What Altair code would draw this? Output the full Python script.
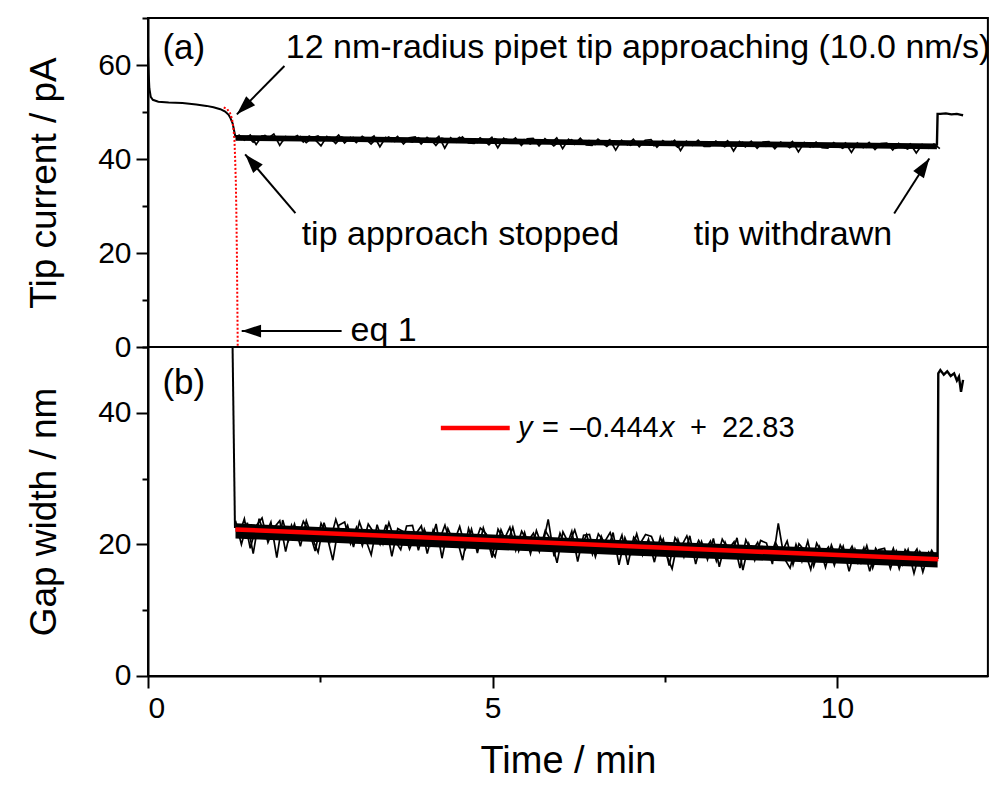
import altair as alt
import pandas as pd
import numpy as np

FONT = "Liberation Sans"

# ---------------- data ----------------
# (a) tip current before and during approach
approach_t = [0.00, 0.01, 0.02, 0.04, 0.07, 0.15, 0.30, 0.50, 0.70, 0.85, 0.95, 1.05, 1.12, 1.17, 1.20, 1.23, 1.25, 1.27]
approach_i = [62.0, 58.0, 55.0, 53.2, 52.6, 52.2, 52.0, 51.9, 51.6, 51.3, 51.0, 50.6, 50.1, 49.4, 48.6, 47.5, 46.0, 44.6]

# (a) noisy current after approach stopped (1.27 .. 11.45 min), two interleaved read-outs
noise_top_start, noise_top_end = 1.27, 11.45
noise_top = [
    44.9, 44.2, 44.8, 43.6, 44.6, 45.0, 44.1, 44.7, 43.9, 44.6,
    44.1, 44.8, 43.5, 44.5, 44.9, 44.0, 44.6, 43.3, 44.7, 44.2,
    44.6, 43.8, 44.4, 43.2, 44.5, 44.0, 44.7, 43.7, 44.3, 44.0,
    43.6, 44.5, 43.9, 44.3, 42.9, 44.4, 44.1, 43.7, 44.6, 43.9,
    44.2, 43.5, 44.1, 43.0, 44.3, 43.8, 44.2, 43.4, 43.9, 44.1,
    43.2, 44.0, 43.6, 43.9, 42.8, 43.8, 43.5, 44.1, 43.3, 43.7,
    43.9, 43.1, 43.6, 42.7, 43.8, 43.4, 43.7, 42.9, 43.5, 43.2,
    43.6, 42.8, 43.5, 43.2, 43.7, 42.5, 43.4, 43.6, 43.0, 43.4,
    43.5, 42.9, 43.3, 42.6, 43.4, 43.1, 43.6, 42.8, 43.2, 43.4,
    42.7, 43.3, 42.9, 43.4, 42.4, 43.2, 43.0, 43.3, 42.6, 43.1,
    43.2, 42.6, 43.0, 42.3, 43.1, 42.8, 43.2, 42.5, 42.9, 43.0,
    42.6, 43.0, 42.3, 42.9, 42.1, 42.8, 42.6, 43.0, 42.4, 42.8,
]
noise_top2 = [
    45.2, 44.0, 45.1, 43.1, 44.9, 44.4, 45.3, 42.9, 44.8, 44.3,
    45.0, 43.6, 44.9, 44.1, 42.8, 44.8, 43.9, 45.1, 43.4, 44.6,
    43.5, 44.8, 44.0, 44.9, 42.6, 44.6, 43.8, 44.8, 43.2, 44.5,
    44.7, 43.2, 44.6, 43.7, 44.8, 42.3, 44.5, 43.6, 44.7, 43.4,
    43.3, 44.5, 43.6, 44.6, 42.4, 44.4, 43.5, 44.5, 42.9, 44.3,
    44.4, 42.8, 44.3, 43.3, 44.5, 42.2, 44.2, 43.1, 44.4, 43.0,
    42.9, 44.2, 43.2, 44.1, 41.9, 44.0, 43.0, 44.2, 42.6, 44.0,
    44.1, 42.5, 43.9, 43.0, 44.0, 41.8, 43.8, 42.9, 44.0, 42.7,
    42.7, 43.8, 42.9, 43.9, 41.7, 43.7, 42.6, 43.8, 42.3, 43.6,
    43.7, 42.2, 43.6, 42.8, 43.7, 41.5, 43.5, 42.5, 43.6, 42.4,
    42.3, 43.5, 42.5, 43.4, 41.4, 43.4, 42.4, 43.5, 42.0, 43.3,
    43.4, 41.9, 43.3, 42.4, 43.2, 41.3, 43.1, 42.3, 43.2, 42.2,
]
band_top_t = [1.27, 3.0, 5.0, 7.0, 9.0, 11.45]
band_top_hi = [45.1, 44.8, 44.4, 44.0, 43.7, 43.3]
band_top_lo = [43.9, 43.6, 43.2, 42.8, 42.5, 42.1]

# (a) after withdrawal
withdraw_t = [11.45, 11.46, 11.50, 11.58, 11.66, 11.74, 11.80, 11.83]
withdraw_i = [42.8, 49.6, 49.6, 49.7, 49.5, 49.6, 49.4, 49.3]

# (a) eq 1 fit (red dotted)
eq1_t = [1.10, 1.15, 1.19, 1.22, 1.24, 1.255, 1.265, 1.275, 1.283, 1.29, 1.295, 1.30, 1.302]
eq1_i = [51.0, 50.6, 49.8, 48.5, 46.5, 44.0, 40.0, 35.0, 28.0, 20.0, 12.0, 4.0, 0.0]

# (b) gap width
drop_t = [1.215, 1.262]
drop_g = [60.0, 22.5]

noise_bot_start, noise_bot_end = 1.27, 11.46
noise_bot = [
    23.6, 20.0, 23.3, 18.6, 23.9, 21.2, 23.4, 18.0, 23.7, 20.6,
    23.1, 19.7, 23.6, 21.0, 18.8, 23.3, 20.4, 23.8, 21.1, 22.9,
    19.6, 23.4, 20.9, 18.4, 23.0, 20.1, 23.3, 20.6, 19.2, 22.8,
    22.9, 19.1, 22.3, 19.9, 23.1, 17.9, 22.4, 20.3, 22.7, 19.4,
    22.3, 18.7, 22.5, 19.7, 18.1, 22.2, 20.0, 22.6, 19.0, 21.8,
    18.6, 22.1, 19.6, 23.8, 18.2, 21.7, 19.4, 22.0, 17.4, 21.4,
    21.5, 18.1, 21.2, 18.9, 21.8, 16.9, 21.0, 18.6, 21.6, 18.4,
    20.8, 17.3, 21.1, 18.5, 16.3, 20.7, 18.1, 21.3, 17.0, 20.4,
    17.7, 20.9, 16.6, 20.3, 18.2, 21.0, 16.1, 20.1, 17.6, 20.6,
    20.2, 17.0, 23.2, 17.9, 16.4, 20.0, 17.4, 20.5, 16.7, 19.6,
    16.5, 19.9, 17.5, 19.7, 15.9, 19.3, 17.2, 19.8, 16.4, 19.2,
    19.4, 16.3, 19.0, 16.9, 19.2, 15.6, 18.9, 17.1, 19.1, 17.5,
]
noise_bot2 = [
    21.2, 23.9, 19.4, 22.8, 24.0, 20.3, 22.5, 23.6, 18.9, 22.9,
    20.8, 23.5, 22.0, 19.0, 23.2, 21.3, 17.6, 22.9, 23.4, 20.1,
    22.6, 19.8, 23.1, 21.7, 20.0, 23.0, 18.2, 22.4, 21.9, 19.3,
    21.5, 22.8, 18.6, 22.2, 20.5, 22.9, 19.8, 21.0, 17.6, 22.4,
    19.9, 22.5, 21.6, 18.0, 22.3, 20.7, 22.6, 19.1, 22.0, 20.4,
    21.7, 18.9, 22.1, 20.6, 17.2, 21.9, 20.1, 22.2, 19.3, 21.5,
    18.5, 21.6, 20.3, 21.8, 19.0, 21.4, 16.9, 21.1, 20.0, 21.5,
    21.2, 18.9, 20.8, 16.8, 21.0, 19.6, 21.3, 18.4, 20.6, 19.0,
    20.5, 17.5, 20.8, 19.2, 20.4, 16.4, 20.7, 18.8, 20.3, 17.8,
    17.9, 20.3, 18.6, 20.5, 16.9, 20.1, 19.0, 16.2, 20.2, 18.5,
    19.6, 16.8, 19.9, 18.1, 19.7, 17.2, 19.5, 15.9, 19.4, 18.0,
    17.1, 19.4, 16.3, 19.2, 17.9, 19.3, 15.8, 18.8, 17.4, 18.9,
]
band_bot_t = [1.27, 3.0, 5.0, 7.0, 9.0, 11.46]
band_bot_hi = [23.2, 22.4, 21.5, 20.6, 19.8, 18.8]
band_bot_lo = [20.9, 20.1, 19.2, 18.3, 17.5, 16.5]

after_t = [11.46, 11.47, 11.50, 11.55, 11.60, 11.65, 11.70, 11.74, 11.77, 11.80, 11.83]
after_g = [17.8, 46.0, 46.5, 45.8, 46.3, 45.6, 46.0, 44.9, 45.5, 43.2, 45.0]

# linear fit
fit_t = [1.27, 11.47]
fit_g = [22.27, 17.74]

# legend sample line in (b)
leg_t = [4.25, 5.25]
leg_g = [37.7, 37.7]

XMAX = 12.19
PX_PER_MIN = 68.9
W = XMAX * PX_PER_MIN
H = 329

xs = alt.Scale(domain=[0, XMAX], nice=False, zero=False)
ys_top = alt.Scale(domain=[0, 70], nice=False, zero=False)
ys_bot = alt.Scale(domain=[0, 50], nice=False, zero=False)

ARROW_PATH = "M0,0 L-0.33,1 L0.33,1 Z"


def ticksize(step):
    return {"condition": {"test": f"datum.value % {step} === 0", "value": 12}, "value": 6}


y_axis_top = alt.Axis(
    title="Tip current / pA", values=[0, 10, 20, 30, 40, 50, 60, 70],
    labelExpr="datum.value % 20 === 0 ? datum.label : ''",
    tickSize=ticksize(20), labelPadding=5, titlePadding=34,
)
y_axis_bot = alt.Axis(
    title="Gap width / nm", values=[0, 10, 20, 30, 40, 50],
    labelExpr="datum.value % 20 === 0 ? datum.label : ''",
    tickSize=ticksize(20), labelPadding=5, titlePadding=34,
)
x_axis = alt.Axis(
    title="Time / min", values=[0, 2.5, 5, 7.5, 10],
    labelExpr="datum.value % 5 === 0 ? datum.label : ''",
    tickSize=ticksize(5), labelPadding=6, titlePadding=19, titleFontSize=38,
)

PANELS = {
    "top": (None, y_axis_top, ys_top),
    "bot": (x_axis, y_axis_bot, ys_bot),
}


def enc(panel, xf="t", yf="v"):
    xa, ya, ysc = PANELS[panel]
    return dict(
        x=alt.X(f"{xf}:Q", scale=xs, axis=xa),
        y=alt.Y(f"{yf}:Q", scale=ysc, axis=ya),
    )


def line(panel, t, v, color="black", width=1.6, dash=None):
    kw = dict(color=color, strokeWidth=width, clip=True)
    if dash:
        kw["strokeDash"] = dash
    d = pd.DataFrame({"t": t, "v": v, "idx": range(len(t))})
    return alt.Chart(d).mark_line(**kw).encode(order="idx:Q", **enc(panel))


# ---------------- panel (a) ----------------
nt_top = np.linspace(noise_top_start, noise_top_end, len(noise_top))
half_top = (nt_top[1] - nt_top[0]) / 2
top_layers = []
top_layers.append(line("top", approach_t, approach_i, width=2))
band_top = pd.DataFrame({"t": band_top_t, "v": band_top_hi, "v2": band_top_lo})
top_layers.append(alt.Chart(band_top).mark_area(color="black", opacity=1).encode(y2="v2:Q", **enc("top")))
top_layers.append(line("top", nt_top, noise_top, width=1.7))
top_layers.append(line("top", nt_top + half_top, noise_top2, width=1.7))
top_layers.append(line("top", withdraw_t, withdraw_i, width=2.4))
top_layers.append(line("top", eq1_t, eq1_i, color="#ff0000", width=2, dash=[2, 2]))

arrows_top = pd.DataFrame({
    "t": [1.98, 2.14, 2.81, 10.83],
    "v": [59.8, 28.5, 3.4, 28.4],
    "t2": [1.29, 1.41, 1.36, 11.34],
    "v2": [49.5, 41.0, 3.4, 40.1],
    "ang": [225.4, 318.6, 270.0, 33.7],
})
top_layers.append(alt.Chart(arrows_top).mark_rule(color="black", strokeWidth=2).encode(
    x2="t2:Q", y2="v2:Q", **enc("top")))
top_layers.append(alt.Chart(arrows_top).mark_point(
    shape=ARROW_PATH, filled=True, size=1500, color="black", opacity=1, strokeWidth=0
).encode(angle=alt.Angle("ang:Q", scale=None), **enc("top", "t2", "v2")))

labels_top_left = pd.DataFrame({
    "t": [0.21, 2.0, 2.23, 2.94],
    "v": [63.6, 63.6, 23.9, 3.4],
    "label": ["(a)", "12 nm-radius pipet tip approaching (10.0 nm/s)", "tip approach stopped", "eq 1"],
    "size": [35, 34, 34, 34],
})
top_layers.append(alt.Chart(labels_top_left).mark_text(
    align="left", baseline="middle", font=FONT, color="black"
).encode(text="label:N", size=alt.Size("size:Q", scale=None), **enc("top")))
labels_top_right = pd.DataFrame({"t": [10.80], "v": [23.9], "label": ["tip withdrawn"]})
top_layers.append(alt.Chart(labels_top_right).mark_text(
    align="right", baseline="middle", font=FONT, fontSize=34, color="black"
).encode(text="label:N", **enc("top")))

top = alt.layer(*top_layers).properties(width=W, height=H)

# ---------------- panel (b) ----------------
nt_bot = np.linspace(noise_bot_start, noise_bot_end, len(noise_bot))
half_bot = (nt_bot[1] - nt_bot[0]) / 2
bot_layers = []
bot_layers.append(line("bot", drop_t, drop_g, width=2))
band_bot = pd.DataFrame({"t": band_bot_t, "v": band_bot_hi, "v2": band_bot_lo})
bot_layers.append(alt.Chart(band_bot).mark_area(color="black", opacity=1).encode(y2="v2:Q", **enc("bot")))
bot_layers.append(line("bot", nt_bot, noise_bot, width=1.7))
bot_layers.append(line("bot", nt_bot[:-1] + half_bot, noise_bot2[:-1], width=1.7))
bot_layers.append(line("bot", after_t, after_g, width=2.4))
bot_layers.append(line("bot", fit_t, fit_g, color="#ff0000", width=4.5))
bot_layers.append(line("bot", leg_t, leg_g, color="#ff0000", width=4.5))

# legend text pieces (italic y and x)
leg_x = 5.37
legend_txt = pd.DataFrame({
    "t": [leg_x] * 6,
    "v": [37.7] * 6,
    "label": ["y", "=", "–0.444", "x", "+", "22.83"],
    "dx": [0, 24, 52, 142, 172, 204],
    "style": ["italic", "normal", "normal", "italic", "normal", "normal"],
})
for i in range(len(legend_txt)):
    row = legend_txt.iloc[i]
    bot_layers.append(alt.Chart(legend_txt.iloc[[i]]).mark_text(
        align="left", baseline="middle", font=FONT, fontSize=29, color="black",
        fontStyle=row["style"], dx=int(row["dx"])
    ).encode(text="label:N", **enc("bot")))

lab_b = pd.DataFrame({"t": [0.21], "v": [44.6], "label": ["(b)"]})
bot_layers.append(alt.Chart(lab_b).mark_text(
    align="left", baseline="middle", font=FONT, fontSize=35, color="black"
).encode(text="label:N", **enc("bot")))

bottom = alt.layer(*bot_layers).properties(width=W, height=H)

chart = alt.vconcat(top, bottom, spacing=0, bounds="flush").properties(
    padding={"left": 16, "top": 8, "right": 0, "bottom": 0}
).configure(font=FONT).configure_view(
    stroke="black", strokeWidth=2
).configure_axis(
    grid=False, domainColor="black", domainWidth=2, tickColor="black", tickWidth=2,
    labelFont=FONT, titleFont=FONT, labelFontSize=30, titleFontSize=37,
    titleFontWeight="normal", labelColor="black", titleColor="black",
)

chart.save("out.html", embed_options={"renderer": "svg", "actions": False})
